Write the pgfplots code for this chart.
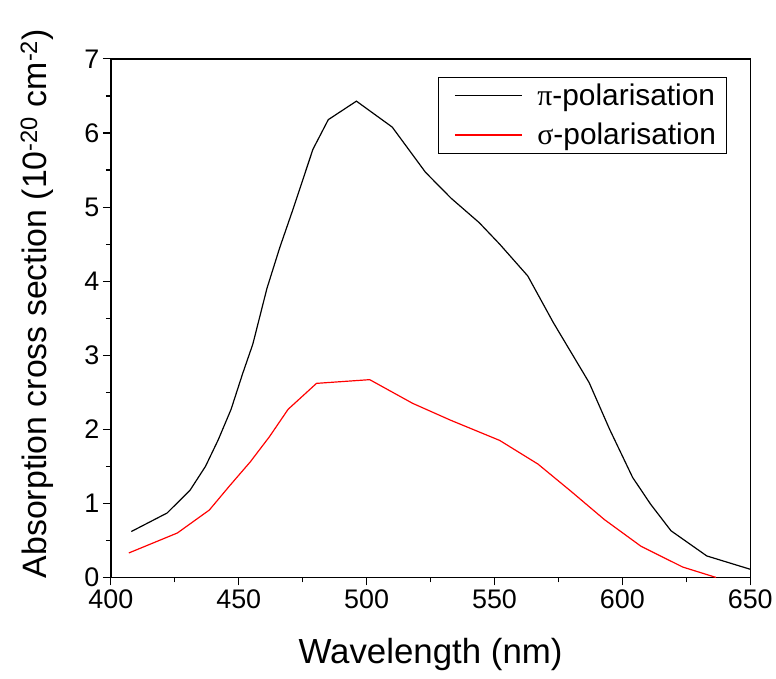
\documentclass[border=0pt]{standalone}
\usepackage{pgfplots}
\pgfplotsset{compat=1.18}
\usetikzlibrary{calc}
\usepackage{fontspec}
\setmainfont{Liberation Sans}
\newfontfamily\grk{Liberation Serif}
\begin{document}
\begin{tikzpicture}
\begin{axis}[
  name=ax,
  scale only axis,
  width=640bp, height=519bp,
  xmin=400, xmax=650, ymin=0, ymax=7,
  xtick={400,450,...,650}, ytick={0,1,...,7},
  minor x tick num=1, minor y tick num=1,
  tick align=outside,
  xtick pos=left, ytick pos=left,
  major tick length=8bp, minor tick length=5bp,
  axis line style={line width=1.3pt},
  every tick/.style={line width=1.1pt, black},
  /pgf/number format/assume math mode=true,
  /pgf/number format/1000 sep={},
  tick label style={font=\fontsize{27}{31}\selectfont},
  xticklabel style={yshift=-1bp},
  xlabel={Wavelength (nm)},
  ylabel={Absorption cross section (10\textsuperscript{-20} cm\textsuperscript{-2})},
  every axis x label/.style={at={(rel axis cs:0.5,0)}, anchor=center, yshift=-77bp, font=\fontsize{35}{40}\selectfont},
  every axis y label/.style={at={(rel axis cs:0,0.528)}, rotate=90, anchor=center, yshift=74bp, font=\fontsize{34}{40}\selectfont},
  legend style={at={(0.9625,0.965)}, anchor=north east, draw=black,
    font=\fontsize{30}{34}\selectfont, row sep=12bp, inner xsep=8bp, inner ysep=5bp},
  legend cell align=left,
  legend image code/.code={\path (-8bp,0bp) (80bp,0bp); \draw[#1,line width=1.2pt](0bp,0bp)--(67bp,0bp);},
  clip=false,
]
\addplot[black, line width=1.2pt] coordinates {
(408,0.62) (422,0.87) (431,1.18) (437,1.50) (442,1.86) (447,2.27) (451.5,2.75)
(455.5,3.15) (461,3.90) (466,4.45) (471,4.95) (479,5.78) (485,6.18) (496,6.43)
(510,6.08) (523,5.47) (533,5.12) (544,4.79) (552,4.50) (563,4.07) (573,3.44)
(587,2.63) (595,2.00) (604,1.35) (611,0.99) (619,0.63) (633,0.29) (650,0.11)
};
\addlegendentry{{\grk π}-polarisation}
\addplot[red, line width=1.2pt] coordinates {
(407,0.33) (426,0.60) (438.5,0.91) (446.5,1.24) (454.5,1.56) (462,1.90) (469.3,2.27)
(480.4,2.62) (501.2,2.67) (518,2.35) (533,2.12) (552,1.85) (567,1.53) (580,1.16)
(593,0.78) (607.3,0.42) (623.6,0.14) (636.6,0.0)
};
\addlegendentry{{\grk σ}-polarisation}
\end{axis}
\path ($(ax.south west)+(-111bp,-101bp)$) rectangle ($(ax.north east)+(25bp,59bp)$);
\end{tikzpicture}
\end{document}
